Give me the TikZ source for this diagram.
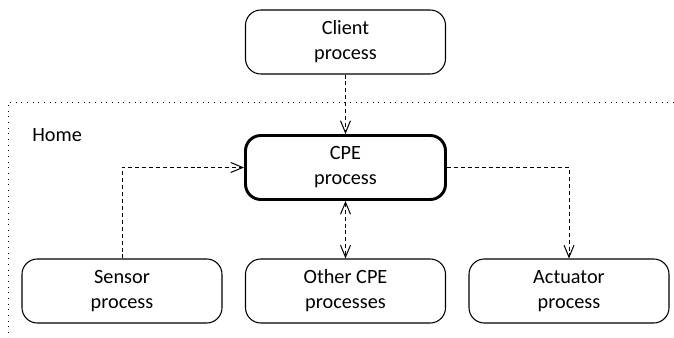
\documentclass[tikz,border=0pt]{standalone}
\usepackage{fontspec}
\setmainfont{Carlito}
\usetikzlibrary{arrows.meta}
\begin{document}
\begin{tikzpicture}[x=0.75pt,y=-0.75pt,
  proc/.style={draw,rounded corners=11.5pt,line width=0.8pt,minimum width=150pt,minimum height=48pt,align=center,inner sep=0pt,font=\fontsize{15.2}{18.75}\selectfont},
  mainproc/.style={proc,line width=2.2pt},
  tip/.tip={Straight Barb[length=9pt,width=7.5pt,line width=0.75pt]},
  conn/.style={line width=0.75pt,dash pattern=on 3pt off 2.2pt,-tip},
  bconn/.style={conn,tip-tip},
  region/.style={line width=0.75pt,dash pattern=on 0.75pt off 3.5pt}]
\useasboundingbox (0,0) rectangle (674,338);
\node[proc] (client) at (345.5,42) {Client\\process};
\node[mainproc] (cpe) at (345.5,167.5) {CPE\\process};
\node[proc] (sensor) at (122,291) {Sensor\\process};
\node[proc] (other) at (345.5,291) {Other CPE\\processes};
\node[proc] (act) at (569,291) {Actuator\\process};
\node[anchor=base west,inner sep=0pt,font=\fontsize{15.2}{18}\selectfont] (home) at (32,142) {Home};
\coordinate (rtl) at (8,102.5);
\coordinate (rtr) at (674,102.5);
\coordinate (rbl) at (8,338);
\draw[region] (rtr) -- (rtl) -- (rbl);
\draw[conn] (client) -- (cpe);
\draw[conn] (sensor.north) |- (cpe.west);
\draw[conn] (cpe.east) -| (act.north);
\draw[bconn] (cpe) -- (other);
\end{tikzpicture}
\end{document}
